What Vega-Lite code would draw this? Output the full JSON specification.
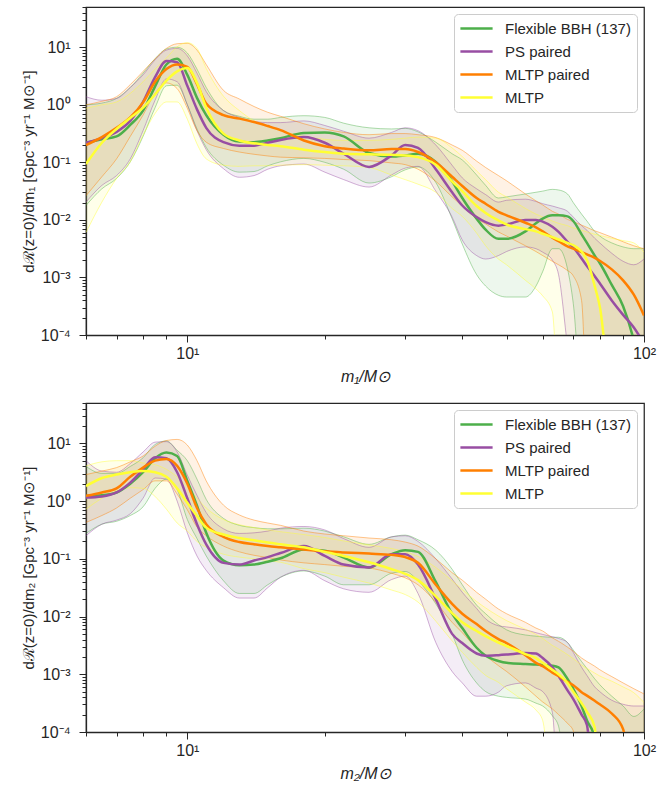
{
"$schema":"https://vega.github.io/schema/vega-lite/v6.json",
"padding":{"left":20,"top":5,"right":5,"bottom":0},
"spacing":16,
"config":{"font":"Liberation Sans","view":{"stroke":"#262626","strokeWidth":1.25},
"axis":{"grid":false,"domainColor":"#262626","domainWidth":1.25,"tickColor":"#262626","tickWidth":1,"labelFont":"Liberation Sans","labelFontSize":16,"labelColor":"#262626","titleFont":"Liberation Sans","titleFontSize":16,"titleColor":"#262626","titleFontWeight":"normal","labelOverlap":false,"labelFlush":false}},
"resolve":{"legend":{"color":"independent"},"scale":{"color":"independent"}},
"datasets":{"rates":[
{"p":"m1","s":"Flexible BBH (137)","x":6,"med":0.219,"lo":0.0178,"hi":1},
{"p":"m1","s":"Flexible BBH (137)","x":6.5,"med":0.251,"lo":0.0347,"hi":1.07},
{"p":"m1","s":"Flexible BBH (137)","x":7,"med":0.282,"lo":0.0525,"hi":1.29},
{"p":"m1","s":"Flexible BBH (137)","x":7.5,"med":0.447,"lo":0.102,"hi":2},
{"p":"m1","s":"Flexible BBH (137)","x":8,"med":0.794,"lo":0.282,"hi":3.55},
{"p":"m1","s":"Flexible BBH (137)","x":8.5,"med":2.09,"lo":0.891,"hi":6.31},
{"p":"m1","s":"Flexible BBH (137)","x":9,"med":5.01,"lo":2.14,"hi":9.33},
{"p":"m1","s":"Flexible BBH (137)","x":9.5,"med":6.31,"lo":2.19,"hi":10},
{"p":"m1","s":"Flexible BBH (137)","x":10,"med":3.31,"lo":1,"hi":7.94},
{"p":"m1","s":"Flexible BBH (137)","x":10.5,"med":1.32,"lo":0.38,"hi":4.17},
{"p":"m1","s":"Flexible BBH (137)","x":11,"med":0.661,"lo":0.182,"hi":2},
{"p":"m1","s":"Flexible BBH (137)","x":12,"med":0.302,"lo":0.0891,"hi":0.794},
{"p":"m1","s":"Flexible BBH (137)","x":13,"med":0.229,"lo":0.0676,"hi":0.631},
{"p":"m1","s":"Flexible BBH (137)","x":14,"med":0.224,"lo":0.0692,"hi":0.562},
{"p":"m1","s":"Flexible BBH (137)","x":15,"med":0.24,"lo":0.0871,"hi":0.562},
{"p":"m1","s":"Flexible BBH (137)","x":16,"med":0.263,"lo":0.102,"hi":0.603},
{"p":"m1","s":"Flexible BBH (137)","x":18,"med":0.324,"lo":0.117,"hi":0.646},
{"p":"m1","s":"Flexible BBH (137)","x":20,"med":0.331,"lo":0.1,"hi":0.603},
{"p":"m1","s":"Flexible BBH (137)","x":22,"med":0.282,"lo":0.0759,"hi":0.479},
{"p":"m1","s":"Flexible BBH (137)","x":25,"med":0.145,"lo":0.0437,"hi":0.398},
{"p":"m1","s":"Flexible BBH (137)","x":28,"med":0.126,"lo":0.0562,"hi":0.38},
{"p":"m1","s":"Flexible BBH (137)","x":30,"med":0.132,"lo":0.0741,"hi":0.389},
{"p":"m1","s":"Flexible BBH (137)","x":32,"med":0.141,"lo":0.0832,"hi":0.339},
{"p":"m1","s":"Flexible BBH (137)","x":35,"med":0.102,"lo":0.0447,"hi":0.224},
{"p":"m1","s":"Flexible BBH (137)","x":38,"med":0.0468,"lo":0.0105,"hi":0.141},
{"p":"m1","s":"Flexible BBH (137)","x":40,"med":0.024,"lo":0.0038,"hi":0.11},
{"p":"m1","s":"Flexible BBH (137)","x":43,"med":0.0105,"lo":0.00112,"hi":0.0603},
{"p":"m1","s":"Flexible BBH (137)","x":45,"med":0.00676,"lo":0.000708,"hi":0.0398},
{"p":"m1","s":"Flexible BBH (137)","x":48,"med":0.00468,"lo":0.00049,"hi":0.024},
{"p":"m1","s":"Flexible BBH (137)","x":50,"med":0.00468,"lo":0.000457,"hi":0.0251},
{"p":"m1","s":"Flexible BBH (137)","x":55,"med":0.00631,"lo":0.000457,"hi":0.0282},
{"p":"m1","s":"Flexible BBH (137)","x":58,"med":0.00871,"lo":0.000708,"hi":0.0302},
{"p":"m1","s":"Flexible BBH (137)","x":60,"med":0.0105,"lo":0.00126,"hi":0.0316},
{"p":"m1","s":"Flexible BBH (137)","x":63,"med":0.012,"lo":0.00316,"hi":0.0339},
{"p":"m1","s":"Flexible BBH (137)","x":65,"med":0.012,"lo":0.00316,"hi":0.0331},
{"p":"m1","s":"Flexible BBH (137)","x":68,"med":0.0115,"lo":0.00141,"hi":0.0282},
{"p":"m1","s":"Flexible BBH (137)","x":70,"med":0.00955,"lo":0.000355,"hi":0.02},
{"p":"m1","s":"Flexible BBH (137)","x":73,"med":0.00562,"lo":0.00001,"hi":0.0126},
{"p":"m1","s":"Flexible BBH (137)","x":75,"med":0.00398,"lo":0.00001,"hi":0.00955},
{"p":"m1","s":"Flexible BBH (137)","x":78,"med":0.0024,"lo":0.00001,"hi":0.00631},
{"p":"m1","s":"Flexible BBH (137)","x":80,"med":0.00178,"lo":0.00001,"hi":0.00525},
{"p":"m1","s":"Flexible BBH (137)","x":85,"med":0.000741,"lo":0.00001,"hi":0.00398},
{"p":"m1","s":"Flexible BBH (137)","x":90,"med":0.000316,"lo":0.00001,"hi":0.00339},
{"p":"m1","s":"Flexible BBH (137)","x":95,"med":0.0000794,"lo":0.00001,"hi":0.00316},
{"p":"m1","s":"Flexible BBH (137)","x":100,"med":0.00001,"lo":0.00001,"hi":0.00316},
{"p":"m1","s":"PS paired","x":6,"med":0.219,"lo":0.0204,"hi":1.38},
{"p":"m1","s":"PS paired","x":6.5,"med":0.263,"lo":0.0398,"hi":1.2},
{"p":"m1","s":"PS paired","x":7,"med":0.339,"lo":0.0589,"hi":1.29},
{"p":"m1","s":"PS paired","x":7.5,"med":0.525,"lo":0.115,"hi":2},
{"p":"m1","s":"PS paired","x":8,"med":1.12,"lo":0.355,"hi":3.31},
{"p":"m1","s":"PS paired","x":8.5,"med":3.02,"lo":1.2,"hi":6.03},
{"p":"m1","s":"PS paired","x":9,"med":5.75,"lo":2.82,"hi":8.91},
{"p":"m1","s":"PS paired","x":9.5,"med":5.5,"lo":2.51,"hi":9.55},
{"p":"m1","s":"PS paired","x":10,"med":2.14,"lo":1,"hi":7.08},
{"p":"m1","s":"PS paired","x":10.5,"med":0.832,"lo":0.355,"hi":3.55},
{"p":"m1","s":"PS paired","x":11,"med":0.398,"lo":0.166,"hi":1.7},
{"p":"m1","s":"PS paired","x":12,"med":0.224,"lo":0.0776,"hi":0.794},
{"p":"m1","s":"PS paired","x":13,"med":0.195,"lo":0.055,"hi":0.603},
{"p":"m1","s":"PS paired","x":14,"med":0.195,"lo":0.0589,"hi":0.513},
{"p":"m1","s":"PS paired","x":15,"med":0.219,"lo":0.0759,"hi":0.49},
{"p":"m1","s":"PS paired","x":16,"med":0.245,"lo":0.0871,"hi":0.49},
{"p":"m1","s":"PS paired","x":18,"med":0.275,"lo":0.0933,"hi":0.525},
{"p":"m1","s":"PS paired","x":20,"med":0.219,"lo":0.0676,"hi":0.437},
{"p":"m1","s":"PS paired","x":22,"med":0.141,"lo":0.0501,"hi":0.347},
{"p":"m1","s":"PS paired","x":25,"med":0.0832,"lo":0.0372,"hi":0.263},
{"p":"m1","s":"PS paired","x":28,"med":0.132,"lo":0.0603,"hi":0.331},
{"p":"m1","s":"PS paired","x":30,"med":0.2,"lo":0.0794,"hi":0.398},
{"p":"m1","s":"PS paired","x":32,"med":0.178,"lo":0.0851,"hi":0.355},
{"p":"m1","s":"PS paired","x":35,"med":0.0759,"lo":0.0316,"hi":0.2},
{"p":"m1","s":"PS paired","x":38,"med":0.0302,"lo":0.0112,"hi":0.0891},
{"p":"m1","s":"PS paired","x":40,"med":0.0178,"lo":0.00447,"hi":0.0537},
{"p":"m1","s":"PS paired","x":43,"med":0.0112,"lo":0.0024,"hi":0.0347},
{"p":"m1","s":"PS paired","x":45,"med":0.00912,"lo":0.00209,"hi":0.0275},
{"p":"m1","s":"PS paired","x":48,"med":0.00794,"lo":0.0024,"hi":0.0204},
{"p":"m1","s":"PS paired","x":50,"med":0.00832,"lo":0.00282,"hi":0.0219},
{"p":"m1","s":"PS paired","x":55,"med":0.01,"lo":0.00339,"hi":0.0229},
{"p":"m1","s":"PS paired","x":58,"med":0.01,"lo":0.00316,"hi":0.0209},
{"p":"m1","s":"PS paired","x":60,"med":0.00933,"lo":0.00275,"hi":0.0191},
{"p":"m1","s":"PS paired","x":63,"med":0.00759,"lo":0.002,"hi":0.0174},
{"p":"m1","s":"PS paired","x":65,"med":0.00617,"lo":0.00112,"hi":0.0162},
{"p":"m1","s":"PS paired","x":68,"med":0.00417,"lo":0.000063,"hi":0.0141},
{"p":"m1","s":"PS paired","x":70,"med":0.00331,"lo":0.00001,"hi":0.0112},
{"p":"m1","s":"PS paired","x":73,"med":0.00214,"lo":0.00001,"hi":0.00794},
{"p":"m1","s":"PS paired","x":75,"med":0.00158,"lo":0.00001,"hi":0.00661},
{"p":"m1","s":"PS paired","x":78,"med":0.00105,"lo":0.00001,"hi":0.00479},
{"p":"m1","s":"PS paired","x":80,"med":0.000794,"lo":0.00001,"hi":0.00398},
{"p":"m1","s":"PS paired","x":85,"med":0.000398,"lo":0.00001,"hi":0.00263},
{"p":"m1","s":"PS paired","x":90,"med":0.000224,"lo":0.00001,"hi":0.00191},
{"p":"m1","s":"PS paired","x":95,"med":0.000135,"lo":0.00001,"hi":0.00166},
{"p":"m1","s":"PS paired","x":100,"med":0.0000708,"lo":0.00001,"hi":0.00209},
{"p":"m1","s":"MLTP paired","x":6,"med":0.2,"lo":0.0263,"hi":1},
{"p":"m1","s":"MLTP paired","x":6.5,"med":0.275,"lo":0.0562,"hi":1.15},
{"p":"m1","s":"MLTP paired","x":7,"med":0.398,"lo":0.115,"hi":1.38},
{"p":"m1","s":"MLTP paired","x":7.5,"med":0.603,"lo":0.282,"hi":2.24},
{"p":"m1","s":"MLTP paired","x":8,"med":1.1,"lo":0.661,"hi":3.8},
{"p":"m1","s":"MLTP paired","x":8.5,"med":2.51,"lo":1.58,"hi":6.31},
{"p":"m1","s":"MLTP paired","x":9,"med":4.17,"lo":2.4,"hi":9.55},
{"p":"m1","s":"MLTP paired","x":9.5,"med":5.01,"lo":1.91,"hi":11.5},
{"p":"m1","s":"MLTP paired","x":10,"med":4.57,"lo":0.871,"hi":11.7},
{"p":"m1","s":"MLTP paired","x":10.5,"med":2.29,"lo":0.355,"hi":8.91},
{"p":"m1","s":"MLTP paired","x":11,"med":1.05,"lo":0.224,"hi":5.01},
{"p":"m1","s":"MLTP paired","x":12,"med":0.661,"lo":0.174,"hi":1.78},
{"p":"m1","s":"MLTP paired","x":13,"med":0.575,"lo":0.151,"hi":1.26},
{"p":"m1","s":"MLTP paired","x":14,"med":0.501,"lo":0.138,"hi":0.933},
{"p":"m1","s":"MLTP paired","x":15,"med":0.427,"lo":0.129,"hi":0.741},
{"p":"m1","s":"MLTP paired","x":16,"med":0.363,"lo":0.123,"hi":0.631},
{"p":"m1","s":"MLTP paired","x":18,"med":0.24,"lo":0.12,"hi":0.468},
{"p":"m1","s":"MLTP paired","x":20,"med":0.191,"lo":0.117,"hi":0.38},
{"p":"m1","s":"MLTP paired","x":22,"med":0.174,"lo":0.112,"hi":0.331},
{"p":"m1","s":"MLTP paired","x":25,"med":0.162,"lo":0.107,"hi":0.302},
{"p":"m1","s":"MLTP paired","x":28,"med":0.17,"lo":0.0977,"hi":0.316},
{"p":"m1","s":"MLTP paired","x":30,"med":0.17,"lo":0.0912,"hi":0.316},
{"p":"m1","s":"MLTP paired","x":32,"med":0.151,"lo":0.0759,"hi":0.302},
{"p":"m1","s":"MLTP paired","x":35,"med":0.1,"lo":0.0468,"hi":0.269},
{"p":"m1","s":"MLTP paired","x":38,"med":0.0562,"lo":0.0251,"hi":0.2},
{"p":"m1","s":"MLTP paired","x":40,"med":0.0389,"lo":0.0174,"hi":0.162},
{"p":"m1","s":"MLTP paired","x":43,"med":0.024,"lo":0.0105,"hi":0.105},
{"p":"m1","s":"MLTP paired","x":45,"med":0.0191,"lo":0.00851,"hi":0.0813},
{"p":"m1","s":"MLTP paired","x":48,"med":0.0138,"lo":0.00617,"hi":0.0589},
{"p":"m1","s":"MLTP paired","x":50,"med":0.012,"lo":0.00525,"hi":0.0479},
{"p":"m1","s":"MLTP paired","x":55,"med":0.00891,"lo":0.00355,"hi":0.0282},
{"p":"m1","s":"MLTP paired","x":58,"med":0.00741,"lo":0.00282,"hi":0.0214},
{"p":"m1","s":"MLTP paired","x":60,"med":0.00631,"lo":0.0024,"hi":0.0182},
{"p":"m1","s":"MLTP paired","x":63,"med":0.0049,"lo":0.00191,"hi":0.0141},
{"p":"m1","s":"MLTP paired","x":65,"med":0.00427,"lo":0.00166,"hi":0.0126},
{"p":"m1","s":"MLTP paired","x":68,"med":0.00347,"lo":0.00132,"hi":0.0102},
{"p":"m1","s":"MLTP paired","x":70,"med":0.00316,"lo":0.00107,"hi":0.00933},
{"p":"m1","s":"MLTP paired","x":73,"med":0.00275,"lo":0.000398,"hi":0.00813},
{"p":"m1","s":"MLTP paired","x":75,"med":0.00251,"lo":0.00001,"hi":0.00741},
{"p":"m1","s":"MLTP paired","x":78,"med":0.00219,"lo":0.00001,"hi":0.00646},
{"p":"m1","s":"MLTP paired","x":80,"med":0.00195,"lo":0.00001,"hi":0.00603},
{"p":"m1","s":"MLTP paired","x":85,"med":0.00138,"lo":0.00001,"hi":0.00501},
{"p":"m1","s":"MLTP paired","x":90,"med":0.000891,"lo":0.00001,"hi":0.00417},
{"p":"m1","s":"MLTP paired","x":95,"med":0.000501,"lo":0.00001,"hi":0.00355},
{"p":"m1","s":"MLTP paired","x":100,"med":0.000219,"lo":0.00001,"hi":0.00316},
{"p":"m1","s":"MLTP","x":6,"med":0.0933,"lo":0.00603,"hi":0.871},
{"p":"m1","s":"MLTP","x":6.5,"med":0.219,"lo":0.0204,"hi":1},
{"p":"m1","s":"MLTP","x":7,"med":0.38,"lo":0.0525,"hi":1.12},
{"p":"m1","s":"MLTP","x":7.5,"med":0.589,"lo":0.102,"hi":1.58},
{"p":"m1","s":"MLTP","x":8,"med":0.891,"lo":0.295,"hi":2.51},
{"p":"m1","s":"MLTP","x":8.5,"med":1.51,"lo":0.708,"hi":4.17},
{"p":"m1","s":"MLTP","x":9,"med":2.63,"lo":1.12,"hi":6.46},
{"p":"m1","s":"MLTP","x":9.5,"med":3.8,"lo":1.12,"hi":10.2},
{"p":"m1","s":"MLTP","x":10,"med":4.37,"lo":0.562,"hi":12},
{"p":"m1","s":"MLTP","x":10.5,"med":2.4,"lo":0.209,"hi":9.55},
{"p":"m1","s":"MLTP","x":11,"med":0.891,"lo":0.115,"hi":4.27},
{"p":"m1","s":"MLTP","x":12,"med":0.316,"lo":0.0891,"hi":1.41},
{"p":"m1","s":"MLTP","x":13,"med":0.24,"lo":0.0851,"hi":0.794},
{"p":"m1","s":"MLTP","x":14,"med":0.214,"lo":0.0871,"hi":0.525},
{"p":"m1","s":"MLTP","x":15,"med":0.2,"lo":0.0871,"hi":0.417},
{"p":"m1","s":"MLTP","x":16,"med":0.191,"lo":0.0891,"hi":0.355},
{"p":"m1","s":"MLTP","x":18,"med":0.166,"lo":0.0912,"hi":0.282},
{"p":"m1","s":"MLTP","x":20,"med":0.151,"lo":0.0891,"hi":0.251},
{"p":"m1","s":"MLTP","x":22,"med":0.141,"lo":0.0871,"hi":0.24},
{"p":"m1","s":"MLTP","x":25,"med":0.138,"lo":0.0813,"hi":0.24},
{"p":"m1","s":"MLTP","x":28,"med":0.135,"lo":0.0603,"hi":0.251},
{"p":"m1","s":"MLTP","x":30,"med":0.132,"lo":0.0501,"hi":0.263},
{"p":"m1","s":"MLTP","x":32,"med":0.123,"lo":0.0417,"hi":0.275},
{"p":"m1","s":"MLTP","x":35,"med":0.0912,"lo":0.0302,"hi":0.263},
{"p":"m1","s":"MLTP","x":38,"med":0.0468,"lo":0.0158,"hi":0.178},
{"p":"m1","s":"MLTP","x":40,"med":0.0316,"lo":0.0115,"hi":0.126},
{"p":"m1","s":"MLTP","x":43,"med":0.0174,"lo":0.00589,"hi":0.0708},
{"p":"m1","s":"MLTP","x":45,"med":0.0132,"lo":0.00355,"hi":0.0501},
{"p":"m1","s":"MLTP","x":48,"med":0.00977,"lo":0.00209,"hi":0.0302},
{"p":"m1","s":"MLTP","x":50,"med":0.00832,"lo":0.00166,"hi":0.0251},
{"p":"m1","s":"MLTP","x":55,"med":0.00692,"lo":0.000891,"hi":0.0158},
{"p":"m1","s":"MLTP","x":58,"med":0.00631,"lo":0.000631,"hi":0.0126},
{"p":"m1","s":"MLTP","x":60,"med":0.00575,"lo":0.000479,"hi":0.0112},
{"p":"m1","s":"MLTP","x":63,"med":0.00501,"lo":0.000251,"hi":0.00955},
{"p":"m1","s":"MLTP","x":65,"med":0.00457,"lo":0.00001,"hi":0.00871},
{"p":"m1","s":"MLTP","x":68,"med":0.00398,"lo":0.00001,"hi":0.00794},
{"p":"m1","s":"MLTP","x":70,"med":0.00363,"lo":0.00001,"hi":0.00724},
{"p":"m1","s":"MLTP","x":73,"med":0.00282,"lo":0.00001,"hi":0.00661},
{"p":"m1","s":"MLTP","x":75,"med":0.002,"lo":0.00001,"hi":0.00617},
{"p":"m1","s":"MLTP","x":78,"med":0.000708,"lo":0.00001,"hi":0.00562},
{"p":"m1","s":"MLTP","x":80,"med":0.000316,"lo":0.00001,"hi":0.00537},
{"p":"m1","s":"MLTP","x":85,"med":0.00001,"lo":0.00001,"hi":0.00479},
{"p":"m1","s":"MLTP","x":90,"med":0.00001,"lo":0.00001,"hi":0.00437},
{"p":"m1","s":"MLTP","x":95,"med":0.00001,"lo":0.00001,"hi":0.00398},
{"p":"m1","s":"MLTP","x":100,"med":0.00001,"lo":0.00001,"hi":0.00275},
{"p":"m2","s":"Flexible BBH (137)","x":6,"med":1.23,"lo":0.275,"hi":3.98},
{"p":"m2","s":"Flexible BBH (137)","x":6.5,"med":1.26,"lo":0.398,"hi":3.02},
{"p":"m2","s":"Flexible BBH (137)","x":7,"med":1.41,"lo":0.447,"hi":3.02},
{"p":"m2","s":"Flexible BBH (137)","x":7.5,"med":2,"lo":0.562,"hi":3.98},
{"p":"m2","s":"Flexible BBH (137)","x":8,"med":3.16,"lo":0.794,"hi":5.62},
{"p":"m2","s":"Flexible BBH (137)","x":8.5,"med":5.5,"lo":1.66,"hi":9.55},
{"p":"m2","s":"Flexible BBH (137)","x":9,"med":6.92,"lo":2.4,"hi":11},
{"p":"m2","s":"Flexible BBH (137)","x":9.5,"med":6.03,"lo":1.58,"hi":7.59},
{"p":"m2","s":"Flexible BBH (137)","x":10,"med":2.24,"lo":0.479,"hi":5.01},
{"p":"m2","s":"Flexible BBH (137)","x":10.5,"med":0.832,"lo":0.224,"hi":2.4},
{"p":"m2","s":"Flexible BBH (137)","x":11,"med":0.282,"lo":0.112,"hi":1.07},
{"p":"m2","s":"Flexible BBH (137)","x":12,"med":0.0933,"lo":0.0417,"hi":0.501},
{"p":"m2","s":"Flexible BBH (137)","x":13,"med":0.0776,"lo":0.0251,"hi":0.38},
{"p":"m2","s":"Flexible BBH (137)","x":14,"med":0.0794,"lo":0.0251,"hi":0.347},
{"p":"m2","s":"Flexible BBH (137)","x":15,"med":0.0891,"lo":0.0355,"hi":0.331},
{"p":"m2","s":"Flexible BBH (137)","x":16,"med":0.102,"lo":0.0479,"hi":0.331},
{"p":"m2","s":"Flexible BBH (137)","x":18,"med":0.145,"lo":0.0617,"hi":0.339},
{"p":"m2","s":"Flexible BBH (137)","x":20,"med":0.138,"lo":0.0501,"hi":0.302},
{"p":"m2","s":"Flexible BBH (137)","x":22,"med":0.105,"lo":0.0355,"hi":0.24},
{"p":"m2","s":"Flexible BBH (137)","x":25,"med":0.0708,"lo":0.0355,"hi":0.178},
{"p":"m2","s":"Flexible BBH (137)","x":28,"med":0.12,"lo":0.0562,"hi":0.24},
{"p":"m2","s":"Flexible BBH (137)","x":30,"med":0.141,"lo":0.0603,"hi":0.257},
{"p":"m2","s":"Flexible BBH (137)","x":32,"med":0.132,"lo":0.0417,"hi":0.214},
{"p":"m2","s":"Flexible BBH (137)","x":35,"med":0.0398,"lo":0.0166,"hi":0.141},
{"p":"m2","s":"Flexible BBH (137)","x":38,"med":0.0112,"lo":0.00501,"hi":0.0661},
{"p":"m2","s":"Flexible BBH (137)","x":40,"med":0.00631,"lo":0.00178,"hi":0.0355},
{"p":"m2","s":"Flexible BBH (137)","x":43,"med":0.00288,"lo":0.000708,"hi":0.0158},
{"p":"m2","s":"Flexible BBH (137)","x":45,"med":0.00209,"lo":0.000501,"hi":0.0112},
{"p":"m2","s":"Flexible BBH (137)","x":48,"med":0.0017,"lo":0.000417,"hi":0.00724},
{"p":"m2","s":"Flexible BBH (137)","x":50,"med":0.00158,"lo":0.000398,"hi":0.00589},
{"p":"m2","s":"Flexible BBH (137)","x":55,"med":0.00151,"lo":0.000372,"hi":0.00479},
{"p":"m2","s":"Flexible BBH (137)","x":58,"med":0.00148,"lo":0.000316,"hi":0.00457},
{"p":"m2","s":"Flexible BBH (137)","x":60,"med":0.00145,"lo":0.000282,"hi":0.00447},
{"p":"m2","s":"Flexible BBH (137)","x":63,"med":0.00141,"lo":0.000191,"hi":0.00437},
{"p":"m2","s":"Flexible BBH (137)","x":65,"med":0.00132,"lo":0.000126,"hi":0.00437},
{"p":"m2","s":"Flexible BBH (137)","x":68,"med":0.000832,"lo":0.00001,"hi":0.00355},
{"p":"m2","s":"Flexible BBH (137)","x":70,"med":0.000562,"lo":0.00001,"hi":0.00263},
{"p":"m2","s":"Flexible BBH (137)","x":73,"med":0.000282,"lo":0.00001,"hi":0.00166},
{"p":"m2","s":"Flexible BBH (137)","x":75,"med":0.000158,"lo":0.00001,"hi":0.00126},
{"p":"m2","s":"Flexible BBH (137)","x":78,"med":0.0000794,"lo":0.00001,"hi":0.000832},
{"p":"m2","s":"Flexible BBH (137)","x":80,"med":0.00001,"lo":0.00001,"hi":0.000661},
{"p":"m2","s":"Flexible BBH (137)","x":85,"med":0.00001,"lo":0.00001,"hi":0.000417},
{"p":"m2","s":"Flexible BBH (137)","x":90,"med":0.00001,"lo":0.00001,"hi":0.000282},
{"p":"m2","s":"Flexible BBH (137)","x":95,"med":0.00001,"lo":0.00001,"hi":0.000186},
{"p":"m2","s":"Flexible BBH (137)","x":100,"med":0.00001,"lo":0.00001,"hi":0.000251},
{"p":"m2","s":"PS paired","x":6,"med":1.15,"lo":0.251,"hi":5.01},
{"p":"m2","s":"PS paired","x":6.5,"med":1.2,"lo":0.398,"hi":3.31},
{"p":"m2","s":"PS paired","x":7,"med":1.41,"lo":0.468,"hi":3.16},
{"p":"m2","s":"PS paired","x":7.5,"med":2.09,"lo":0.603,"hi":4.47},
{"p":"m2","s":"PS paired","x":8,"med":3.55,"lo":1.12,"hi":7.08},
{"p":"m2","s":"PS paired","x":8.5,"med":5.75,"lo":2.51,"hi":10.5},
{"p":"m2","s":"PS paired","x":9,"med":5.5,"lo":2.4,"hi":10.7},
{"p":"m2","s":"PS paired","x":9.5,"med":3.16,"lo":1,"hi":7.08},
{"p":"m2","s":"PS paired","x":10,"med":1.12,"lo":0.282,"hi":2.82},
{"p":"m2","s":"PS paired","x":10.5,"med":0.398,"lo":0.112,"hi":1.26},
{"p":"m2","s":"PS paired","x":11,"med":0.178,"lo":0.0631,"hi":0.631},
{"p":"m2","s":"PS paired","x":12,"med":0.0851,"lo":0.0316,"hi":0.331},
{"p":"m2","s":"PS paired","x":13,"med":0.0794,"lo":0.0209,"hi":0.275},
{"p":"m2","s":"PS paired","x":14,"med":0.0933,"lo":0.0209,"hi":0.282},
{"p":"m2","s":"PS paired","x":15,"med":0.107,"lo":0.0316,"hi":0.302},
{"p":"m2","s":"PS paired","x":16,"med":0.126,"lo":0.0479,"hi":0.339},
{"p":"m2","s":"PS paired","x":18,"med":0.166,"lo":0.0631,"hi":0.363},
{"p":"m2","s":"PS paired","x":20,"med":0.112,"lo":0.0417,"hi":0.316},
{"p":"m2","s":"PS paired","x":22,"med":0.0794,"lo":0.0302,"hi":0.224},
{"p":"m2","s":"PS paired","x":25,"med":0.0708,"lo":0.0263,"hi":0.158},
{"p":"m2","s":"PS paired","x":28,"med":0.12,"lo":0.0437,"hi":0.24},
{"p":"m2","s":"PS paired","x":30,"med":0.12,"lo":0.0501,"hi":0.251},
{"p":"m2","s":"PS paired","x":32,"med":0.0794,"lo":0.0251,"hi":0.2},
{"p":"m2","s":"PS paired","x":35,"med":0.02,"lo":0.00355,"hi":0.1},
{"p":"m2","s":"PS paired","x":38,"med":0.00501,"lo":0.00112,"hi":0.0447},
{"p":"m2","s":"PS paired","x":40,"med":0.00347,"lo":0.000708,"hi":0.0263},
{"p":"m2","s":"PS paired","x":43,"med":0.00229,"lo":0.000417,"hi":0.0138},
{"p":"m2","s":"PS paired","x":45,"med":0.00209,"lo":0.000417,"hi":0.00912},
{"p":"m2","s":"PS paired","x":48,"med":0.00214,"lo":0.00049,"hi":0.00692},
{"p":"m2","s":"PS paired","x":50,"med":0.00219,"lo":0.000631,"hi":0.00661},
{"p":"m2","s":"PS paired","x":55,"med":0.00234,"lo":0.000708,"hi":0.00589},
{"p":"m2","s":"PS paired","x":58,"med":0.00229,"lo":0.000575,"hi":0.00525},
{"p":"m2","s":"PS paired","x":60,"med":0.00191,"lo":0.000501,"hi":0.0049},
{"p":"m2","s":"PS paired","x":63,"med":0.00132,"lo":0.000219,"hi":0.00447},
{"p":"m2","s":"PS paired","x":65,"med":0.000933,"lo":0.00001,"hi":0.00417},
{"p":"m2","s":"PS paired","x":68,"med":0.000525,"lo":0.00001,"hi":0.00355},
{"p":"m2","s":"PS paired","x":70,"med":0.000372,"lo":0.00001,"hi":0.0024},
{"p":"m2","s":"PS paired","x":73,"med":0.0002,"lo":0.00001,"hi":0.00132},
{"p":"m2","s":"PS paired","x":75,"med":0.000132,"lo":0.00001,"hi":0.000955},
{"p":"m2","s":"PS paired","x":78,"med":0.00001,"lo":0.00001,"hi":0.000603},
{"p":"m2","s":"PS paired","x":80,"med":0.00001,"lo":0.00001,"hi":0.000501},
{"p":"m2","s":"PS paired","x":85,"med":0.00001,"lo":0.00001,"hi":0.000355},
{"p":"m2","s":"PS paired","x":90,"med":0.00001,"lo":0.00001,"hi":0.000302},
{"p":"m2","s":"PS paired","x":95,"med":0.00001,"lo":0.00001,"hi":0.000282},
{"p":"m2","s":"PS paired","x":100,"med":0.00001,"lo":0.00001,"hi":0.000282},
{"p":"m2","s":"MLTP paired","x":6,"med":1.23,"lo":0.427,"hi":2.88},
{"p":"m2","s":"MLTP paired","x":6.5,"med":1.41,"lo":0.562,"hi":3.31},
{"p":"m2","s":"MLTP paired","x":7,"med":1.66,"lo":0.759,"hi":3.8},
{"p":"m2","s":"MLTP paired","x":7.5,"med":2.63,"lo":1.12,"hi":4.79},
{"p":"m2","s":"MLTP paired","x":8,"med":3.8,"lo":1.58,"hi":6.03},
{"p":"m2","s":"MLTP paired","x":8.5,"med":5.01,"lo":2.24,"hi":8.91},
{"p":"m2","s":"MLTP paired","x":9,"med":5.37,"lo":2.24,"hi":11.2},
{"p":"m2","s":"MLTP paired","x":9.5,"med":4.07,"lo":1.32,"hi":11.7},
{"p":"m2","s":"MLTP paired","x":10,"med":2,"lo":0.708,"hi":9.33},
{"p":"m2","s":"MLTP paired","x":10.5,"med":0.759,"lo":0.355,"hi":5.01},
{"p":"m2","s":"MLTP paired","x":11,"med":0.398,"lo":0.251,"hi":2.24},
{"p":"m2","s":"MLTP paired","x":12,"med":0.24,"lo":0.166,"hi":0.851},
{"p":"m2","s":"MLTP paired","x":13,"med":0.195,"lo":0.132,"hi":0.575},
{"p":"m2","s":"MLTP paired","x":14,"med":0.178,"lo":0.115,"hi":0.468},
{"p":"m2","s":"MLTP paired","x":15,"med":0.166,"lo":0.105,"hi":0.417},
{"p":"m2","s":"MLTP paired","x":16,"med":0.158,"lo":0.0955,"hi":0.38},
{"p":"m2","s":"MLTP paired","x":18,"med":0.145,"lo":0.0851,"hi":0.302},
{"p":"m2","s":"MLTP paired","x":20,"med":0.135,"lo":0.0794,"hi":0.269},
{"p":"m2","s":"MLTP paired","x":22,"med":0.129,"lo":0.0741,"hi":0.251},
{"p":"m2","s":"MLTP paired","x":25,"med":0.123,"lo":0.0692,"hi":0.229},
{"p":"m2","s":"MLTP paired","x":28,"med":0.117,"lo":0.0562,"hi":0.214},
{"p":"m2","s":"MLTP paired","x":30,"med":0.107,"lo":0.0468,"hi":0.195},
{"p":"m2","s":"MLTP paired","x":32,"med":0.0851,"lo":0.0355,"hi":0.166},
{"p":"m2","s":"MLTP paired","x":35,"med":0.0355,"lo":0.0178,"hi":0.1},
{"p":"m2","s":"MLTP paired","x":38,"med":0.0166,"lo":0.00794,"hi":0.0575},
{"p":"m2","s":"MLTP paired","x":40,"med":0.0112,"lo":0.00525,"hi":0.0427},
{"p":"m2","s":"MLTP paired","x":43,"med":0.00741,"lo":0.00282,"hi":0.0263},
{"p":"m2","s":"MLTP paired","x":45,"med":0.00562,"lo":0.00209,"hi":0.02},
{"p":"m2","s":"MLTP paired","x":48,"med":0.00407,"lo":0.00141,"hi":0.0135},
{"p":"m2","s":"MLTP paired","x":50,"med":0.00347,"lo":0.00112,"hi":0.0112},
{"p":"m2","s":"MLTP paired","x":55,"med":0.00214,"lo":0.000603,"hi":0.00794},
{"p":"m2","s":"MLTP paired","x":58,"med":0.00158,"lo":0.000417,"hi":0.00631},
{"p":"m2","s":"MLTP paired","x":60,"med":0.00138,"lo":0.000331,"hi":0.00562},
{"p":"m2","s":"MLTP paired","x":63,"med":0.00107,"lo":0.000251,"hi":0.00427},
{"p":"m2","s":"MLTP paired","x":65,"med":0.000933,"lo":0.0002,"hi":0.00372},
{"p":"m2","s":"MLTP paired","x":68,"med":0.000741,"lo":0.000141,"hi":0.00295},
{"p":"m2","s":"MLTP paired","x":70,"med":0.000646,"lo":0.000105,"hi":0.00251},
{"p":"m2","s":"MLTP paired","x":73,"med":0.00049,"lo":0.00001,"hi":0.00191},
{"p":"m2","s":"MLTP paired","x":75,"med":0.000427,"lo":0.00001,"hi":0.00166},
{"p":"m2","s":"MLTP paired","x":78,"med":0.000347,"lo":0.00001,"hi":0.00138},
{"p":"m2","s":"MLTP paired","x":80,"med":0.000302,"lo":0.00001,"hi":0.0012},
{"p":"m2","s":"MLTP paired","x":85,"med":0.000209,"lo":0.00001,"hi":0.000912},
{"p":"m2","s":"MLTP paired","x":90,"med":0.000112,"lo":0.00001,"hi":0.000708},
{"p":"m2","s":"MLTP paired","x":95,"med":0.00001,"lo":0.00001,"hi":0.000562},
{"p":"m2","s":"MLTP paired","x":100,"med":0.00001,"lo":0.00001,"hi":0.000457},
{"p":"m2","s":"MLTP","x":6,"med":1.82,"lo":0.724,"hi":4.07},
{"p":"m2","s":"MLTP","x":6.5,"med":2.51,"lo":1.12,"hi":4.79},
{"p":"m2","s":"MLTP","x":7,"med":2.88,"lo":1.51,"hi":5.01},
{"p":"m2","s":"MLTP","x":7.5,"med":3.16,"lo":1.7,"hi":5.01},
{"p":"m2","s":"MLTP","x":8,"med":3.31,"lo":1.66,"hi":4.57},
{"p":"m2","s":"MLTP","x":8.5,"med":3.16,"lo":1.2,"hi":4.27},
{"p":"m2","s":"MLTP","x":9,"med":2.63,"lo":0.724,"hi":3.55},
{"p":"m2","s":"MLTP","x":9.5,"med":1.66,"lo":0.417,"hi":2.63},
{"p":"m2","s":"MLTP","x":10,"med":0.933,"lo":0.302,"hi":1.78},
{"p":"m2","s":"MLTP","x":10.5,"med":0.55,"lo":0.2,"hi":1.12},
{"p":"m2","s":"MLTP","x":11,"med":0.347,"lo":0.158,"hi":0.759},
{"p":"m2","s":"MLTP","x":12,"med":0.263,"lo":0.12,"hi":0.479},
{"p":"m2","s":"MLTP","x":13,"med":0.229,"lo":0.107,"hi":0.389},
{"p":"m2","s":"MLTP","x":14,"med":0.209,"lo":0.1,"hi":0.347},
{"p":"m2","s":"MLTP","x":15,"med":0.191,"lo":0.0933,"hi":0.316},
{"p":"m2","s":"MLTP","x":16,"med":0.178,"lo":0.0871,"hi":0.295},
{"p":"m2","s":"MLTP","x":18,"med":0.158,"lo":0.0676,"hi":0.263},
{"p":"m2","s":"MLTP","x":20,"med":0.132,"lo":0.0575,"hi":0.234},
{"p":"m2","s":"MLTP","x":22,"med":0.112,"lo":0.0479,"hi":0.204},
{"p":"m2","s":"MLTP","x":25,"med":0.0871,"lo":0.038,"hi":0.174},
{"p":"m2","s":"MLTP","x":28,"med":0.0661,"lo":0.0288,"hi":0.151},
{"p":"m2","s":"MLTP","x":30,"med":0.055,"lo":0.024,"hi":0.132},
{"p":"m2","s":"MLTP","x":32,"med":0.0427,"lo":0.0178,"hi":0.11},
{"p":"m2","s":"MLTP","x":35,"med":0.0224,"lo":0.00832,"hi":0.0708},
{"p":"m2","s":"MLTP","x":38,"med":0.0115,"lo":0.0038,"hi":0.0417},
{"p":"m2","s":"MLTP","x":40,"med":0.00794,"lo":0.0024,"hi":0.0295},
{"p":"m2","s":"MLTP","x":43,"med":0.00562,"lo":0.00132,"hi":0.0182},
{"p":"m2","s":"MLTP","x":45,"med":0.00457,"lo":0.000955,"hi":0.0141},
{"p":"m2","s":"MLTP","x":48,"med":0.00355,"lo":0.000724,"hi":0.0102},
{"p":"m2","s":"MLTP","x":50,"med":0.00309,"lo":0.000562,"hi":0.00851},
{"p":"m2","s":"MLTP","x":55,"med":0.00224,"lo":0.000331,"hi":0.00603},
{"p":"m2","s":"MLTP","x":58,"med":0.00191,"lo":0.00024,"hi":0.0049},
{"p":"m2","s":"MLTP","x":60,"med":0.00158,"lo":0.000158,"hi":0.00417},
{"p":"m2","s":"MLTP","x":63,"med":0.0012,"lo":0.00001,"hi":0.00316},
{"p":"m2","s":"MLTP","x":65,"med":0.001,"lo":0.00001,"hi":0.00275},
{"p":"m2","s":"MLTP","x":68,"med":0.000708,"lo":0.00001,"hi":0.00219},
{"p":"m2","s":"MLTP","x":70,"med":0.000501,"lo":0.00001,"hi":0.00186},
{"p":"m2","s":"MLTP","x":73,"med":0.000316,"lo":0.00001,"hi":0.00145},
{"p":"m2","s":"MLTP","x":75,"med":0.000224,"lo":0.00001,"hi":0.00126},
{"p":"m2","s":"MLTP","x":78,"med":0.00012,"lo":0.00001,"hi":0.00105},
{"p":"m2","s":"MLTP","x":80,"med":0.00001,"lo":0.00001,"hi":0.000933},
{"p":"m2","s":"MLTP","x":85,"med":0.00001,"lo":0.00001,"hi":0.000759},
{"p":"m2","s":"MLTP","x":90,"med":0.00001,"lo":0.00001,"hi":0.000603},
{"p":"m2","s":"MLTP","x":95,"med":0.00001,"lo":0.00001,"hi":0.000479},
{"p":"m2","s":"MLTP","x":100,"med":0.00001,"lo":0.00001,"hi":0.000324}
]},
"vconcat":[
{"width":558,"height":328,"data":{"name":"rates"},"transform":[{"filter":"datum.p === 'm1'"}],
"encoding":{"x":{"field":"x","type":"quantitative","title":"m₁/M⊙","scale":{"type":"log","domain":[6,100],"nice":false},
"axis":{"values":[6,7,8,9,10,20,30,40,50,60,70,80,90,100],"labelExpr":"datum.value == 10 ? '10¹' : datum.value == 100 ? '10²' : ''","labelFontSize":{"condition":{"test":"datum.value == 10 || datum.value == 100","value":16},"value":0},"tickSize":{"condition":{"test":"datum.value == 10 || datum.value == 100","value":7},"value":4},"labelPadding":3,"titleFontStyle":"italic","titlePadding":7}}},
"layer":[
{"mark":{"type":"area","interpolate":"monotone","clip":true,"fillOpacity":0.1},
"encoding":{"y":{"field":"lo","type":"quantitative","title":"dℛ(z=0)/dm₁  [Gpc⁻³ yr⁻¹ M⊙⁻¹]","scale":{"type":"log","domain":[0.0001,50],"nice":false},
"axis":{"values":[0.0001,0.0002,0.0003,0.0004,0.0005,0.0006,0.0007,0.0008,0.0009,0.001,0.002,0.003,0.004,0.005,0.006,0.007,0.008,0.009,0.01,0.02,0.03,0.04,0.05,0.06,0.07,0.08,0.09,0.1,0.2,0.3,0.4,0.5,0.6,0.7,0.8,0.9,1,2,3,4,5,6,7,8,9,10,20,30,40,50],
"labelExpr":"abs(log(datum.value)/LN10 - round(log(datum.value)/LN10)) > 0.001 ? '' : '10' + replace(replace(replace(replace(replace(replace(toString(round(log(datum.value)/LN10)), '-', '⁻'), '0', '⁰'), '1', '¹'), '2', '²'), '3', '³'), '4', '⁴')",
"labelFontSize":{"condition":{"test":"abs(log(datum.value)/LN10 - round(log(datum.value)/LN10)) < 0.001","value":16},"value":0},
"tickSize":{"condition":{"test":"abs(log(datum.value)/LN10 - round(log(datum.value)/LN10)) < 0.001","value":7},"value":4},"labelPadding":9,"titleFontSize":15,"titlePadding":4}},
"y2":{"field":"hi"},
"fill":{"field":"s","type":"nominal","scale":{"domain":["Flexible BBH (137)","PS paired","MLTP paired","MLTP"],"range":["#4daf4a","#984ea3","#ff7f00","#ffff33"]},"legend":null}}},
{"mark":{"type":"line","interpolate":"monotone","clip":true,"strokeWidth":1,"strokeOpacity":0.45},
"encoding":{"y":{"field":"lo","type":"quantitative","title":"dℛ(z=0)/dm₁  [Gpc⁻³ yr⁻¹ M⊙⁻¹]"},"stroke":{"field":"s","type":"nominal","scale":{"domain":["Flexible BBH (137)","PS paired","MLTP paired","MLTP"],"range":["#4daf4a","#984ea3","#ff7f00","#ffff33"]},"legend":null}}},
{"mark":{"type":"line","interpolate":"monotone","clip":true,"strokeWidth":1,"strokeOpacity":0.45},
"encoding":{"y":{"field":"hi","type":"quantitative","title":"dℛ(z=0)/dm₁  [Gpc⁻³ yr⁻¹ M⊙⁻¹]"},"stroke":{"field":"s","type":"nominal","scale":{"domain":["Flexible BBH (137)","PS paired","MLTP paired","MLTP"],"range":["#4daf4a","#984ea3","#ff7f00","#ffff33"]},"legend":null}}},
{"mark":{"type":"line","interpolate":"monotone","clip":true,"strokeWidth":2.5},
"encoding":{"y":{"field":"med","type":"quantitative","title":"dℛ(z=0)/dm₁  [Gpc⁻³ yr⁻¹ M⊙⁻¹]"},"color":{"field":"s","type":"nominal","scale":{"domain":["Flexible BBH (137)","PS paired","MLTP paired","MLTP"],"range":["#4daf4a","#984ea3","#ff7f00","#ffff33"]},
"legend":{"orient":"top-right","title":null,"offset":7,"symbolType":"M-2.3,0H2.3","symbolSize":196,"symbolStrokeWidth":2.5,"symbolOffset":8,"labelOffset":20,"labelFontSize":15,"labelFont":"Liberation Sans","labelColor":"#262626","rowPadding":6,"padding":6,"fillColor":"rgba(255,255,255,0.8)","strokeColor":"#cccccc","cornerRadius":4}}}}
]},
{"width":558,"height":329,"data":{"name":"rates"},"transform":[{"filter":"datum.p === 'm2'"}],
"encoding":{"x":{"field":"x","type":"quantitative","title":"m₂/M⊙","scale":{"type":"log","domain":[6,100],"nice":false},
"axis":{"values":[6,7,8,9,10,20,30,40,50,60,70,80,90,100],"labelExpr":"datum.value == 10 ? '10¹' : datum.value == 100 ? '10²' : ''","labelFontSize":{"condition":{"test":"datum.value == 10 || datum.value == 100","value":16},"value":0},"tickSize":{"condition":{"test":"datum.value == 10 || datum.value == 100","value":7},"value":4},"labelPadding":3,"titleFontStyle":"italic","titlePadding":7}}},
"layer":[
{"mark":{"type":"area","interpolate":"monotone","clip":true,"fillOpacity":0.1},
"encoding":{"y":{"field":"lo","type":"quantitative","title":"dℛ(z=0)/dm₂  [Gpc⁻³ yr⁻¹ M⊙⁻¹]","scale":{"type":"log","domain":[0.0001,50],"nice":false},
"axis":{"values":[0.0001,0.0002,0.0003,0.0004,0.0005,0.0006,0.0007,0.0008,0.0009,0.001,0.002,0.003,0.004,0.005,0.006,0.007,0.008,0.009,0.01,0.02,0.03,0.04,0.05,0.06,0.07,0.08,0.09,0.1,0.2,0.3,0.4,0.5,0.6,0.7,0.8,0.9,1,2,3,4,5,6,7,8,9,10,20,30,40,50],
"labelExpr":"abs(log(datum.value)/LN10 - round(log(datum.value)/LN10)) > 0.001 ? '' : '10' + replace(replace(replace(replace(replace(replace(toString(round(log(datum.value)/LN10)), '-', '⁻'), '0', '⁰'), '1', '¹'), '2', '²'), '3', '³'), '4', '⁴')",
"labelFontSize":{"condition":{"test":"abs(log(datum.value)/LN10 - round(log(datum.value)/LN10)) < 0.001","value":16},"value":0},
"tickSize":{"condition":{"test":"abs(log(datum.value)/LN10 - round(log(datum.value)/LN10)) < 0.001","value":7},"value":4},"labelPadding":9,"titleFontSize":15,"titlePadding":4}},
"y2":{"field":"hi"},
"fill":{"field":"s","type":"nominal","scale":{"domain":["Flexible BBH (137)","PS paired","MLTP paired","MLTP"],"range":["#4daf4a","#984ea3","#ff7f00","#ffff33"]},"legend":null}}},
{"mark":{"type":"line","interpolate":"monotone","clip":true,"strokeWidth":1,"strokeOpacity":0.45},
"encoding":{"y":{"field":"lo","type":"quantitative","title":"dℛ(z=0)/dm₂  [Gpc⁻³ yr⁻¹ M⊙⁻¹]"},"stroke":{"field":"s","type":"nominal","scale":{"domain":["Flexible BBH (137)","PS paired","MLTP paired","MLTP"],"range":["#4daf4a","#984ea3","#ff7f00","#ffff33"]},"legend":null}}},
{"mark":{"type":"line","interpolate":"monotone","clip":true,"strokeWidth":1,"strokeOpacity":0.45},
"encoding":{"y":{"field":"hi","type":"quantitative","title":"dℛ(z=0)/dm₂  [Gpc⁻³ yr⁻¹ M⊙⁻¹]"},"stroke":{"field":"s","type":"nominal","scale":{"domain":["Flexible BBH (137)","PS paired","MLTP paired","MLTP"],"range":["#4daf4a","#984ea3","#ff7f00","#ffff33"]},"legend":null}}},
{"mark":{"type":"line","interpolate":"monotone","clip":true,"strokeWidth":2.5},
"encoding":{"y":{"field":"med","type":"quantitative","title":"dℛ(z=0)/dm₂  [Gpc⁻³ yr⁻¹ M⊙⁻¹]"},"color":{"field":"s","type":"nominal","scale":{"domain":["Flexible BBH (137)","PS paired","MLTP paired","MLTP"],"range":["#4daf4a","#984ea3","#ff7f00","#ffff33"]},
"legend":{"orient":"top-right","title":null,"offset":7,"symbolType":"M-2.3,0H2.3","symbolSize":196,"symbolStrokeWidth":2.5,"symbolOffset":8,"labelOffset":20,"labelFontSize":15,"labelFont":"Liberation Sans","labelColor":"#262626","rowPadding":6,"padding":6,"fillColor":"rgba(255,255,255,0.8)","strokeColor":"#cccccc","cornerRadius":4}}}}
]}
]
}
